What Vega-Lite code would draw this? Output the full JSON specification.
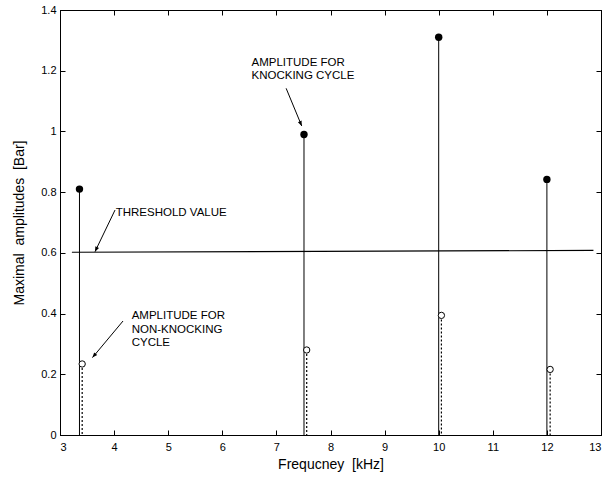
{
  "$schema": "https://vega.github.io/schema/vega-lite/v6.json",
  "width": 541,
  "height": 425,
  "autosize": {"type": "none"},
  "padding": {"left": 60, "top": 10, "right": 14, "bottom": 44},
  "background": "white",
  "config": {
    "view": {"stroke": "black", "strokeWidth": 1},
    "font": "Liberation Sans",
    "axis": {
      "grid": false,
      "domainColor": "black",
      "tickColor": "black",
      "tickSize": -5,
      "labelColor": "black",
      "labelFontSize": 11,
      "labelFont": "Liberation Sans",
      "titleFont": "Liberation Sans",
      "titleFontSize": 14,
      "titleFontWeight": "normal",
      "titleColor": "black"
    }
  },
  "datasets": {
    "points": [
      {"f": 3.36, "a": 0.81, "cycle": "knocking"},
      {"f": 7.51, "a": 0.99, "cycle": "knocking"},
      {"f": 10.0, "a": 1.31, "cycle": "knocking"},
      {"f": 12.0, "a": 0.842, "cycle": "knocking"},
      {"f": 3.41, "a": 0.234, "cycle": "non-knocking"},
      {"f": 7.56, "a": 0.28, "cycle": "non-knocking"},
      {"f": 10.05, "a": 0.394, "cycle": "non-knocking"},
      {"f": 12.06, "a": 0.216, "cycle": "non-knocking"}
    ],
    "threshold": [
      {"f": 3.22, "a": 0.602},
      {"f": 12.86, "a": 0.608}
    ],
    "labels": [
      {"x": 6.54, "y": 1.225, "label": "AMPLITUDE FOR"},
      {"x": 6.54, "y": 1.183, "label": "KNOCKING CYCLE"},
      {"x": 4.03, "y": 0.732, "label": "THRESHOLD VALUE"},
      {"x": 4.325, "y": 0.392, "label": "AMPLITUDE FOR"},
      {"x": 4.325, "y": 0.3475, "label": "NON-KNOCKING"},
      {"x": 4.325, "y": 0.303, "label": "CYCLE"}
    ],
    "arrows": [
      {"id": "knock", "x": 7.18, "y": 1.142, "x2": 7.468, "y2": 1.018},
      {"id": "thresh", "x": 4.017, "y": 0.741, "x2": 3.647, "y2": 0.604},
      {"id": "nonknock", "x": 4.165, "y": 0.3755, "x2": 3.6, "y2": 0.255}
    ]
  },
  "layer": [
    {
      "layer": [
        {
          "data": {"name": "points"},
          "transform": [{"filter": "datum.cycle === 'knocking'"}],
          "mark": {"type": "rule", "color": "black", "strokeWidth": 1},
          "encoding": {
            "x": {"field": "f", "type": "quantitative", "scale": {"domain": [3, 13], "nice": false, "zero": false},
              "axis": {"orient": "bottom", "values": [3,4,5,6,7,8,9,10,11,12,13], "title": "Frequcney\u00a0\u00a0[kHz]", "titlePadding": 5, "labelPadding": 11}},
            "y": {"field": "a", "type": "quantitative", "scale": {"domain": [0, 1.4], "nice": false},
              "axis": {"orient": "left", "values": [0,0.2,0.4,0.6,0.8,1,1.2,1.4], "format": "~g", "title": "Maximal\u00a0\u00a0amplitudes\u00a0\u00a0[Bar]", "titlePadding": 14, "labelPadding": 9}},
            "y2": {"datum": 0}
          }
        },
        {
          "data": {"name": "points"},
          "transform": [{"filter": "datum.cycle === 'non-knocking'"}],
          "mark": {"type": "rule", "color": "black", "strokeWidth": 1.2, "strokeDash": [2, 2]},
          "encoding": {
            "x": {"field": "f", "type": "quantitative"},
            "y": {"field": "a", "type": "quantitative"},
            "y2": {"datum": 0}
          }
        },
        {
          "data": {"name": "points"},
          "transform": [{"filter": "datum.cycle === 'knocking'"}],
          "mark": {"type": "point", "shape": "circle", "filled": true, "color": "black", "size": 55, "opacity": 1},
          "encoding": {
            "x": {"field": "f", "type": "quantitative"},
            "y": {"field": "a", "type": "quantitative"}
          }
        },
        {
          "data": {"name": "points"},
          "transform": [{"filter": "datum.cycle === 'non-knocking'"}],
          "mark": {"type": "point", "shape": "circle", "filled": false, "fill": "white", "stroke": "black", "strokeWidth": 1, "size": 40, "opacity": 1},
          "encoding": {
            "x": {"field": "f", "type": "quantitative"},
            "y": {"field": "a", "type": "quantitative"}
          }
        },
        {
          "data": {"name": "arrows"},
          "mark": {"type": "rule", "color": "black", "strokeWidth": 1},
          "encoding": {
            "x": {"field": "x", "type": "quantitative"},
            "y": {"field": "y", "type": "quantitative"},
            "x2": {"field": "x2"},
            "y2": {"field": "y2"}
          }
        },
        {
          "data": {"name": "arrows"},
          "transform": [{"filter": "datum.id === 'knock'"}],
          "mark": {"type": "point", "shape": "M0,0L-0.4,1L0.4,1Z", "filled": true, "color": "black", "size": 100, "angle": 157, "opacity": 1},
          "encoding": {
            "x": {"field": "x2", "type": "quantitative"},
            "y": {"field": "y2", "type": "quantitative"}
          }
        },
        {
          "data": {"name": "arrows"},
          "transform": [{"filter": "datum.id === 'thresh'"}],
          "mark": {"type": "point", "shape": "M0,0L-0.4,1L0.4,1Z", "filled": true, "color": "black", "size": 100, "angle": 206, "opacity": 1},
          "encoding": {
            "x": {"field": "x2", "type": "quantitative"},
            "y": {"field": "y2", "type": "quantitative"}
          }
        },
        {
          "data": {"name": "arrows"},
          "transform": [{"filter": "datum.id === 'nonknock'"}],
          "mark": {"type": "point", "shape": "M0,0L-0.4,1L0.4,1Z", "filled": true, "color": "black", "size": 100, "angle": 220, "opacity": 1},
          "encoding": {
            "x": {"field": "x2", "type": "quantitative"},
            "y": {"field": "y2", "type": "quantitative"}
          }
        },
        {
          "data": {"name": "labels"},
          "mark": {"type": "text", "align": "left", "baseline": "middle", "fontSize": 11.5, "font": "Liberation Sans", "color": "black"},
          "encoding": {
            "x": {"field": "x", "type": "quantitative"},
            "y": {"field": "y", "type": "quantitative"},
            "text": {"field": "label", "type": "nominal"}
          }
        }
      ]
    },
    {
      "data": {"name": "threshold"},
      "mark": {"type": "line", "color": "black", "strokeWidth": 1.2},
      "encoding": {
        "x": {"field": "f", "type": "quantitative", "scale": {"domain": [3, 13], "nice": false, "zero": false},
          "axis": {"orient": "top", "values": [3,4,5,6,7,8,9,10,11,12,13], "labels": false, "title": null}},
        "y": {"field": "a", "type": "quantitative", "scale": {"domain": [0, 1.4], "nice": false},
          "axis": {"orient": "right", "values": [0,0.2,0.4,0.6,0.8,1,1.2,1.4], "labels": false, "title": null}}
      }
    }
  ],
  "resolve": {"scale": {"x": "independent", "y": "independent"}}
}
